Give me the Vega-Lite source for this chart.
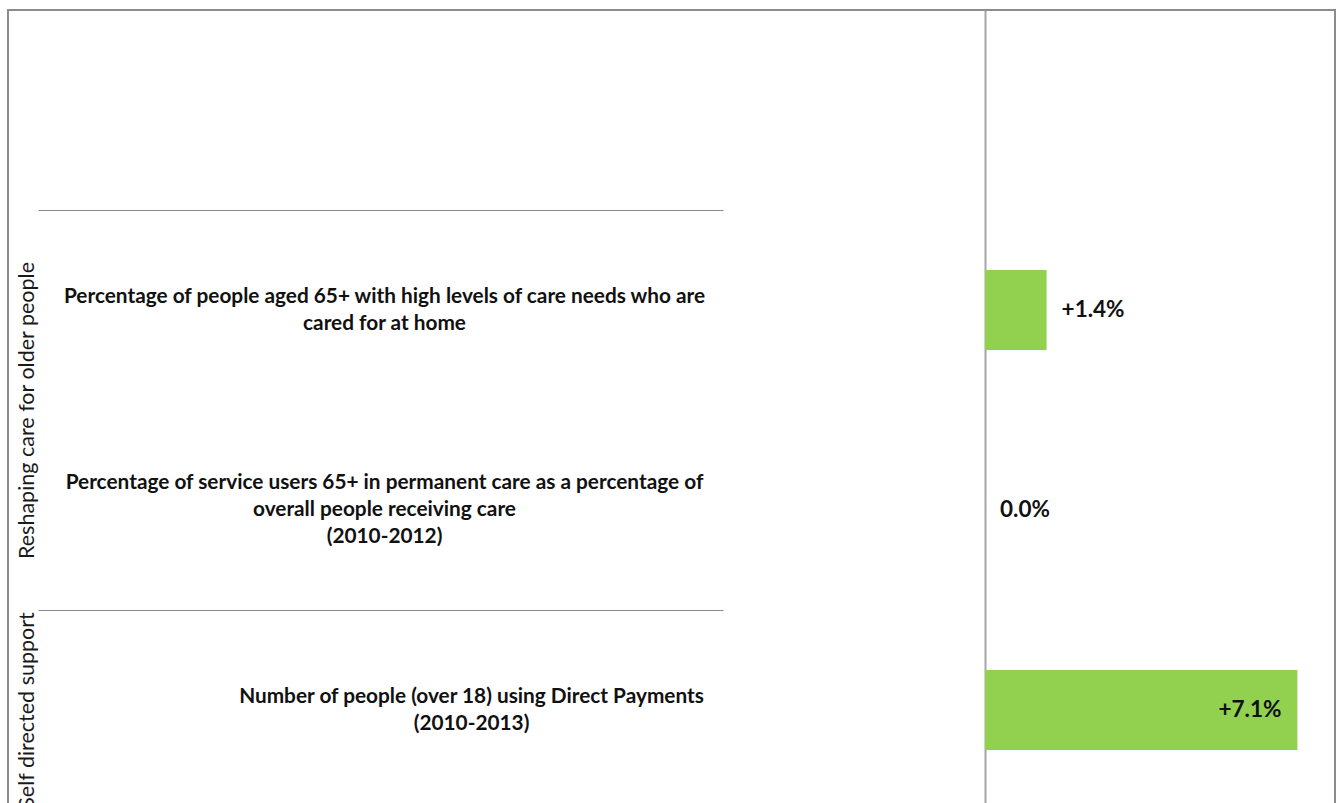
{
  "$schema": "https://vega.github.io/schema/vega-lite/v6.json",
  "width": 1327,
  "height": 800,
  "autosize": {"type": "none"},
  "padding": {"left": 8, "top": 10, "right": 5, "bottom": 0},
  "background": "white",
  "config": {
    "view": {"stroke": "#8c8c8c", "strokeWidth": 2},
    "font": "Lato"
  },
  "data": {
    "values": [
      {"group": "", "indicator": "", "value": null},
      {"group": "Reshaping care for older people", "indicator": "Percentage of people aged 65+ with high levels of care needs who are\ncared for at home", "value": 1.4},
      {"group": "Reshaping care for older people", "indicator": "Percentage of service users 65+ in permanent care as a percentage of\noverall people receiving care\n(2010-2012)", "value": 0.0},
      {"group": "Self directed support", "indicator": "Number of people (over 18) using Direct Payments\n(2010-2013)", "value": 7.1}
    ]
  },
  "layer": [
    {
      "mark": {"type": "text", "text": ""},
      "encoding": {
        "y": {
          "field": "indicator", "type": "nominal", "sort": null,
          "scale": {"paddingInner": 0.6, "paddingOuter": 0.3},
          "axis": {
            "orient": "left",
            "offset": -715,
            "title": null,
            "grid": false,
            "domain": false,
            "values": [
              "Percentage of people aged 65+ with high levels of care needs who are\ncared for at home",
              "Number of people (over 18) using Direct Payments\n(2010-2013)"
            ],
            "ticks": true,
            "tickSize": 685,
            "tickColor": "#8c8c8c",
            "tickWidth": 1,
            "tickOffset": -100,
            "labelExpr": "indexof(datum.value, 'Direct Payments') >= 0 ? 'Self directed support' : 'Reshaping care for older people'",
            "labelAngle": 270,
            "labelAlign": "center",
            "labelBaseline": "middle",
            "labelPadding": 11,
            "labelFont": "Lato",
            "labelFontSize": 21.5,
            "labelColor": "#1a1a1a",
            "labelLimit": 0,
            "labelOverlap": false,
            "labelFlush": false,
            "labelOffset": {"condition": {"test": "indexof(datum.value, 'Direct Payments') >= 0", "value": 100}, "value": 200}
          }
        }
      }
    },
    {
      "mark": {"type": "bar", "color": "#92d050"},
      "encoding": {
        "x": {"field": "value", "type": "quantitative", "scale": {"domain": [0, 8], "range": [977, 1329]}, "axis": null},
        "y": {
          "field": "indicator", "type": "nominal", "sort": null,
          "axis": {
            "orient": "left",
            "offset": -977,
            "title": null,
            "grid": false,
            "ticks": false,
            "domain": true,
            "domainColor": "#a6a6a6",
            "domainWidth": 2,
            "labelExpr": "split(datum.label, '\\n')",
            "labelAlign": "center",
            "labelBaseline": "middle",
            "labelPadding": {"condition": {"test": "length(split(datum.value, '\\n')[0]) > 60", "value": 601}, "value": 514},
            "labelOffset": {"condition": {"test": "length(split(datum.value, '\\n')) >= 3", "value": -27}, "value": -13.5},
            "labelLimit": 0,
            "labelOverlap": false,
            "labelFlush": false,
            "labelFont": "Lato",
            "labelFontWeight": "bold",
            "labelFontSize": 20.8,
            "labelColor": "#111111",
            "labelLineHeight": 27
          }
        }
      }
    },
    {
      "transform": [
        {"filter": "isValid(datum.value) && datum.value < 5"},
        {"calculate": "(datum.value > 0 ? '+' : '') + format(datum.value, '.1f') + '%'", "as": "label"}
      ],
      "mark": {"type": "text", "align": "left", "baseline": "middle", "dx": 15, "font": "Lato", "fontWeight": "bold", "fontSize": 22.5, "color": "#111111"},
      "encoding": {
        "x": {"field": "value", "type": "quantitative"},
        "y": {"field": "indicator", "type": "nominal", "sort": null, "axis": null},
        "text": {"field": "label"}
      }
    },
    {
      "transform": [
        {"filter": "isValid(datum.value) && datum.value >= 5"},
        {"calculate": "(datum.value > 0 ? '+' : '') + format(datum.value, '.1f') + '%'", "as": "label"}
      ],
      "mark": {"type": "text", "align": "right", "baseline": "middle", "dx": -16, "font": "Lato", "fontWeight": "bold", "fontSize": 22.5, "color": "#111111"},
      "encoding": {
        "x": {"field": "value", "type": "quantitative"},
        "y": {"field": "indicator", "type": "nominal", "sort": null, "axis": null},
        "text": {"field": "label"}
      }
    }
  ],
  "resolve": {"axis": {"y": "independent"}}
}
